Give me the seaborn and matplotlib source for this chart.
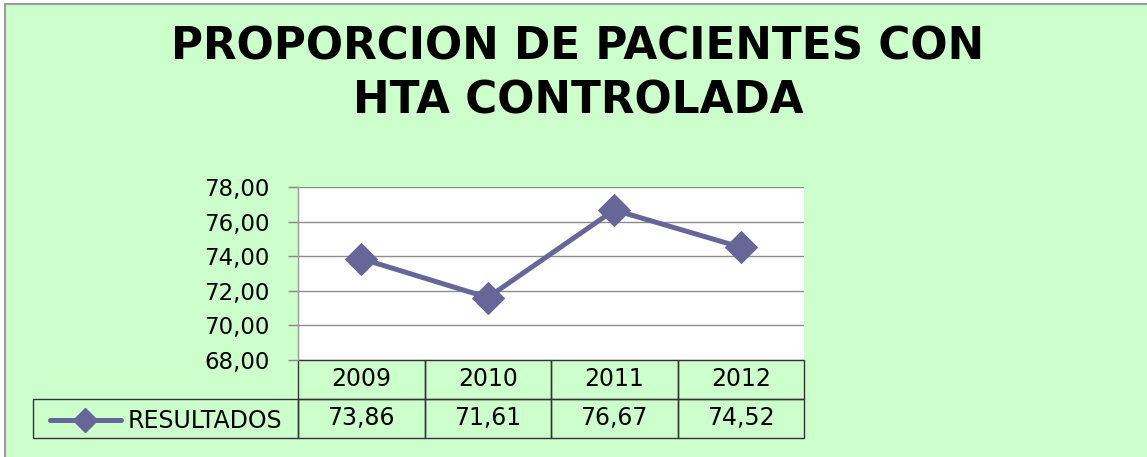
import matplotlib
matplotlib.use("Agg")
import matplotlib.pyplot as plt
import matplotlib.ticker as mticker
from matplotlib.patches import Rectangle
from matplotlib.lines import Line2D
import seaborn as sns

# datos
anios = ["2009", "2010", "2011", "2012"]
resultados = [73.86, 71.61, 76.67, 74.52]
serie = "RESULTADOS"
titulo = "PROPORCION DE PACIENTES CON\nHTA CONTROLADA"

VERDE = "#CCFFCC"
LINEA = "#666699"
W, H = 1147, 457

sns.set_theme(style="white")
plt.rcParams["font.family"] = ["DejaVu Sans"]
plt.rcParams["text.color"] = "black"

fig = plt.figure(figsize=(W / 100, H / 100), dpi=100)
fig.patch.set_facecolor("white")
# fondo verde con borde gris
fondo = Rectangle((5 / W, -0.2), 1.2, 1.2 - 4 / H,
                  transform=fig.transFigure, facecolor=VERDE,
                  edgecolor="#9a9a9a", linewidth=1.5, zorder=-10)
fig.patches.append(fondo)

ax = fig.add_axes([298 / W, 1 - 360 / H, (804 - 298) / W, (360 - 187) / H])
ax.set_facecolor("white")

sns.lineplot(x=anios, y=resultados, ax=ax, color=LINEA, linewidth=3.6,
             marker="D", markersize=16, markeredgecolor=LINEA, sort=False)

ax.set_xlim(-0.5, len(anios) - 0.5)
ax.set_ylim(68, 78)
ax.set_yticks(range(68, 79, 2))
ax.yaxis.set_major_formatter(mticker.FuncFormatter(lambda v, p: f"{v:.2f}".replace(".", ",")))
ax.tick_params(axis="y", labelsize=16.5, length=7.5, width=1, color="#888888",
               left=True, pad=13, labelcolor="black")
ax.set_xticks([])
ax.set_xlabel("")
ax.set_ylabel("")
ax.grid(axis="y", color="#8c8c8c", linewidth=1)
ax.set_axisbelow(True)
for lado in ["top", "right", "bottom"]:
    ax.spines[lado].set_visible(False)
ax.spines["left"].set_color("#999999")
ax.spines["left"].set_linewidth(1)

# tabla de datos
ancho_leyenda = 298 - 33
ancho_col = (804 - 298) / 4
celdas = [[""] + anios, [""] + [f"{v:.2f}".replace(".", ",") for v in resultados]]
tabla = ax.table(cellText=celdas, cellLoc="center",
                 colWidths=[ancho_leyenda] + [ancho_col] * 4,
                 bbox=[(33 - 298) / 506, (360 - 438) / 173, (804 - 33) / 506, 78 / 173])
tabla.auto_set_font_size(False)
tabla.set_fontsize(17)
for (f, c), celda in tabla.get_celld().items():
    celda.set_facecolor("none")
    celda.set_edgecolor("#333333")
    celda.set_linewidth(1)
    celda.get_text().set_color("black")
tabla[0, 0].visible_edges = ""

# leyenda dentro de la celda izquierda
ley = ax.legend(handles=[Line2D([], [], color=LINEA, linewidth=3.6, marker="D",
                                markersize=12)],
                labels=[serie], loc="center left", frameon=False,
                bbox_to_anchor=((38 - 298) / 506, (360 - 421) / 173),
                fontsize=17, handlelength=3.0, handletextpad=0.3, borderpad=0)
for t in ley.get_texts():
    t.set_color("black")

fig.text(578 / W, 1 - 74 / H, titulo, ha="center", va="center", color="black",
         fontsize=31.5, fontweight="bold", linespacing=1.3)

fig.savefig("out.png", dpi=100, facecolor=fig.get_facecolor())
